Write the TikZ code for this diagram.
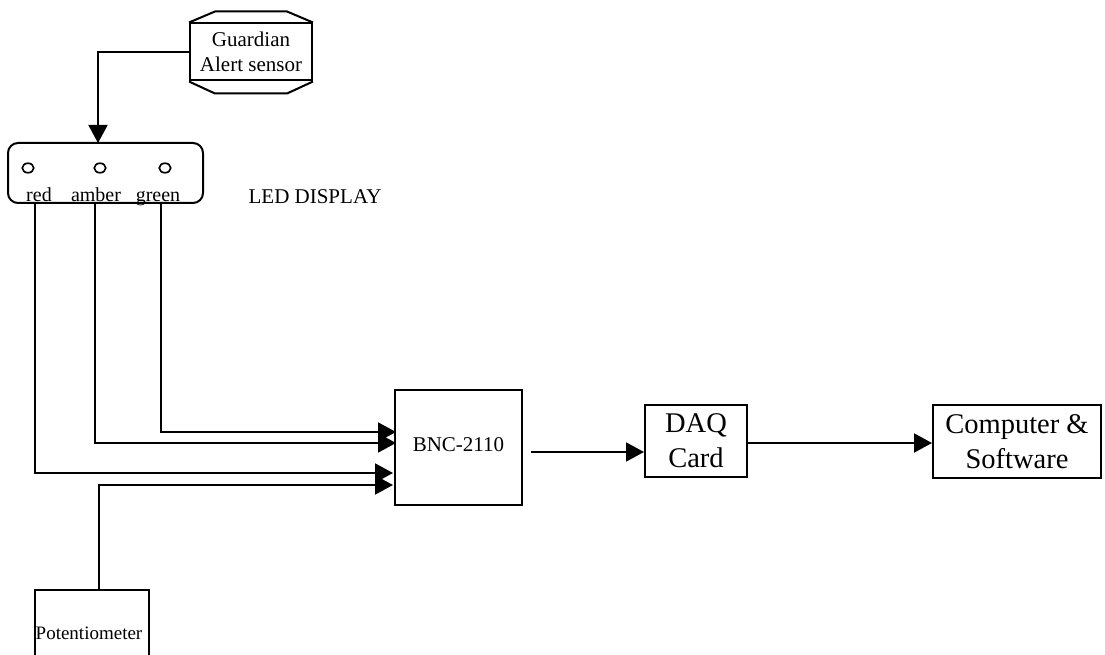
\documentclass[tikz,border=0pt]{standalone}
\usepackage{fontspec}
\setmainfont{Liberation Serif}
\usetikzlibrary{arrows.meta,shapes.geometric}
\tikzset{
  box/.style={draw, line width=2pt, rectangle, inner sep=0pt, align=center},
  wire/.style={line width=2pt},
  arr/.style={line width=2pt, -{Triangle[length=18pt,width=19pt]}},
  led/.style={draw, line width=1.7pt, ellipse, minimum width=11.5pt, minimum height=9.5pt, inner sep=0pt},
  lbl/.style={font=\fontsize{20}{22}\selectfont, inner sep=0pt, anchor=base},
}
\begin{document}
\begin{tikzpicture}[x=1pt,y=-1pt]
\useasboundingbox (0,0) rectangle (1105,655);
\clip (0,0) rectangle (1105,655);
\fill[white] (0,0) rectangle (1105,655);

% Guardian Alert sensor
\node[box, minimum width=122pt, minimum height=57pt, font=\fontsize{21}{25}\selectfont]
  (gas) at (251,52) {Guardian\\Alert sensor};
\draw[wire] (gas.north west) -- ([xshift=26pt,yshift=11pt]gas.north west)
  -- ([xshift=-26pt,yshift=11pt]gas.north east) -- (gas.north east);
\draw[wire] (gas.south west) -- ([xshift=26pt,yshift=-12pt]gas.south west)
  -- ([xshift=-26pt,yshift=-12pt]gas.south east) -- (gas.south east);

% LED display
\node[draw, line width=2pt, rounded corners=10pt, minimum width=195pt, minimum height=60pt, inner sep=0pt]
  (leddisp) at (105.5,173) {};
\node[led] (lr) at (28,168) {};
\node[led] (la) at (100,168) {};
\node[led] (lg) at (165,168) {};
\node[lbl] (tr) at (39,201) {red};
\node[lbl] (ta) at (96,201) {amber};
\node[lbl] (tg) at (158,201) {green};
\node[lbl, font=\fontsize{21}{24}\selectfont] (ldlabel) at (315,204) {LED DISPLAY};

\coordinate (ledin) at (98,143);
\draw[arr] (gas.west) -| (ledin);

% BNC
\node[box, minimum width=127pt, minimum height=115pt, font=\fontsize{21}{24}\selectfont]
  (bnc) at (458.5,447.5) {\raisebox{6pt}{BNC-2110}};

% DAQ
\node[box, minimum width=102pt, minimum height=72pt, font=\fontsize{28.5}{35}\selectfont]
  (daq) at (696,441) {DAQ\\Card};

% Computer
\node[box, minimum width=168pt, minimum height=73pt, font=\fontsize{28.5}{35}\selectfont]
  (comp) at (1017,441.5) {Computer \&\\Software};

% Potentiometer
\node[box, minimum width=114pt, minimum height=90pt, font=\fontsize{19}{21}\selectfont]
  (pot) at (92,635) {\hspace*{-6pt}\raisebox{3pt}{Potentiometer}};

% wires into BNC
\coordinate (rout) at (35,203);
\coordinate (aout) at (95,203);
\coordinate (gout) at (161,203);
\coordinate (pout) at (99,590);
\draw[arr] (gout) |- ([xshift=2pt]bnc.west |- 0,432);
\draw[arr] (aout) |- ([xshift=2pt]bnc.west |- 0,443);
\draw[arr] (rout) |- ([xshift=-1pt]bnc.west |- 0,473);
\draw[arr] (pout) |- ([xshift=-1pt]bnc.west |- 0,485);

% BNC -> DAQ -> Computer
\draw[arr] ([shift={(8pt,-4.5pt)}]bnc.east) -- (daq.west |- 0,452);
\draw[arr] (daq.east |- 0,443) -- (comp.west |- 0,443);
\end{tikzpicture}
\end{document}
